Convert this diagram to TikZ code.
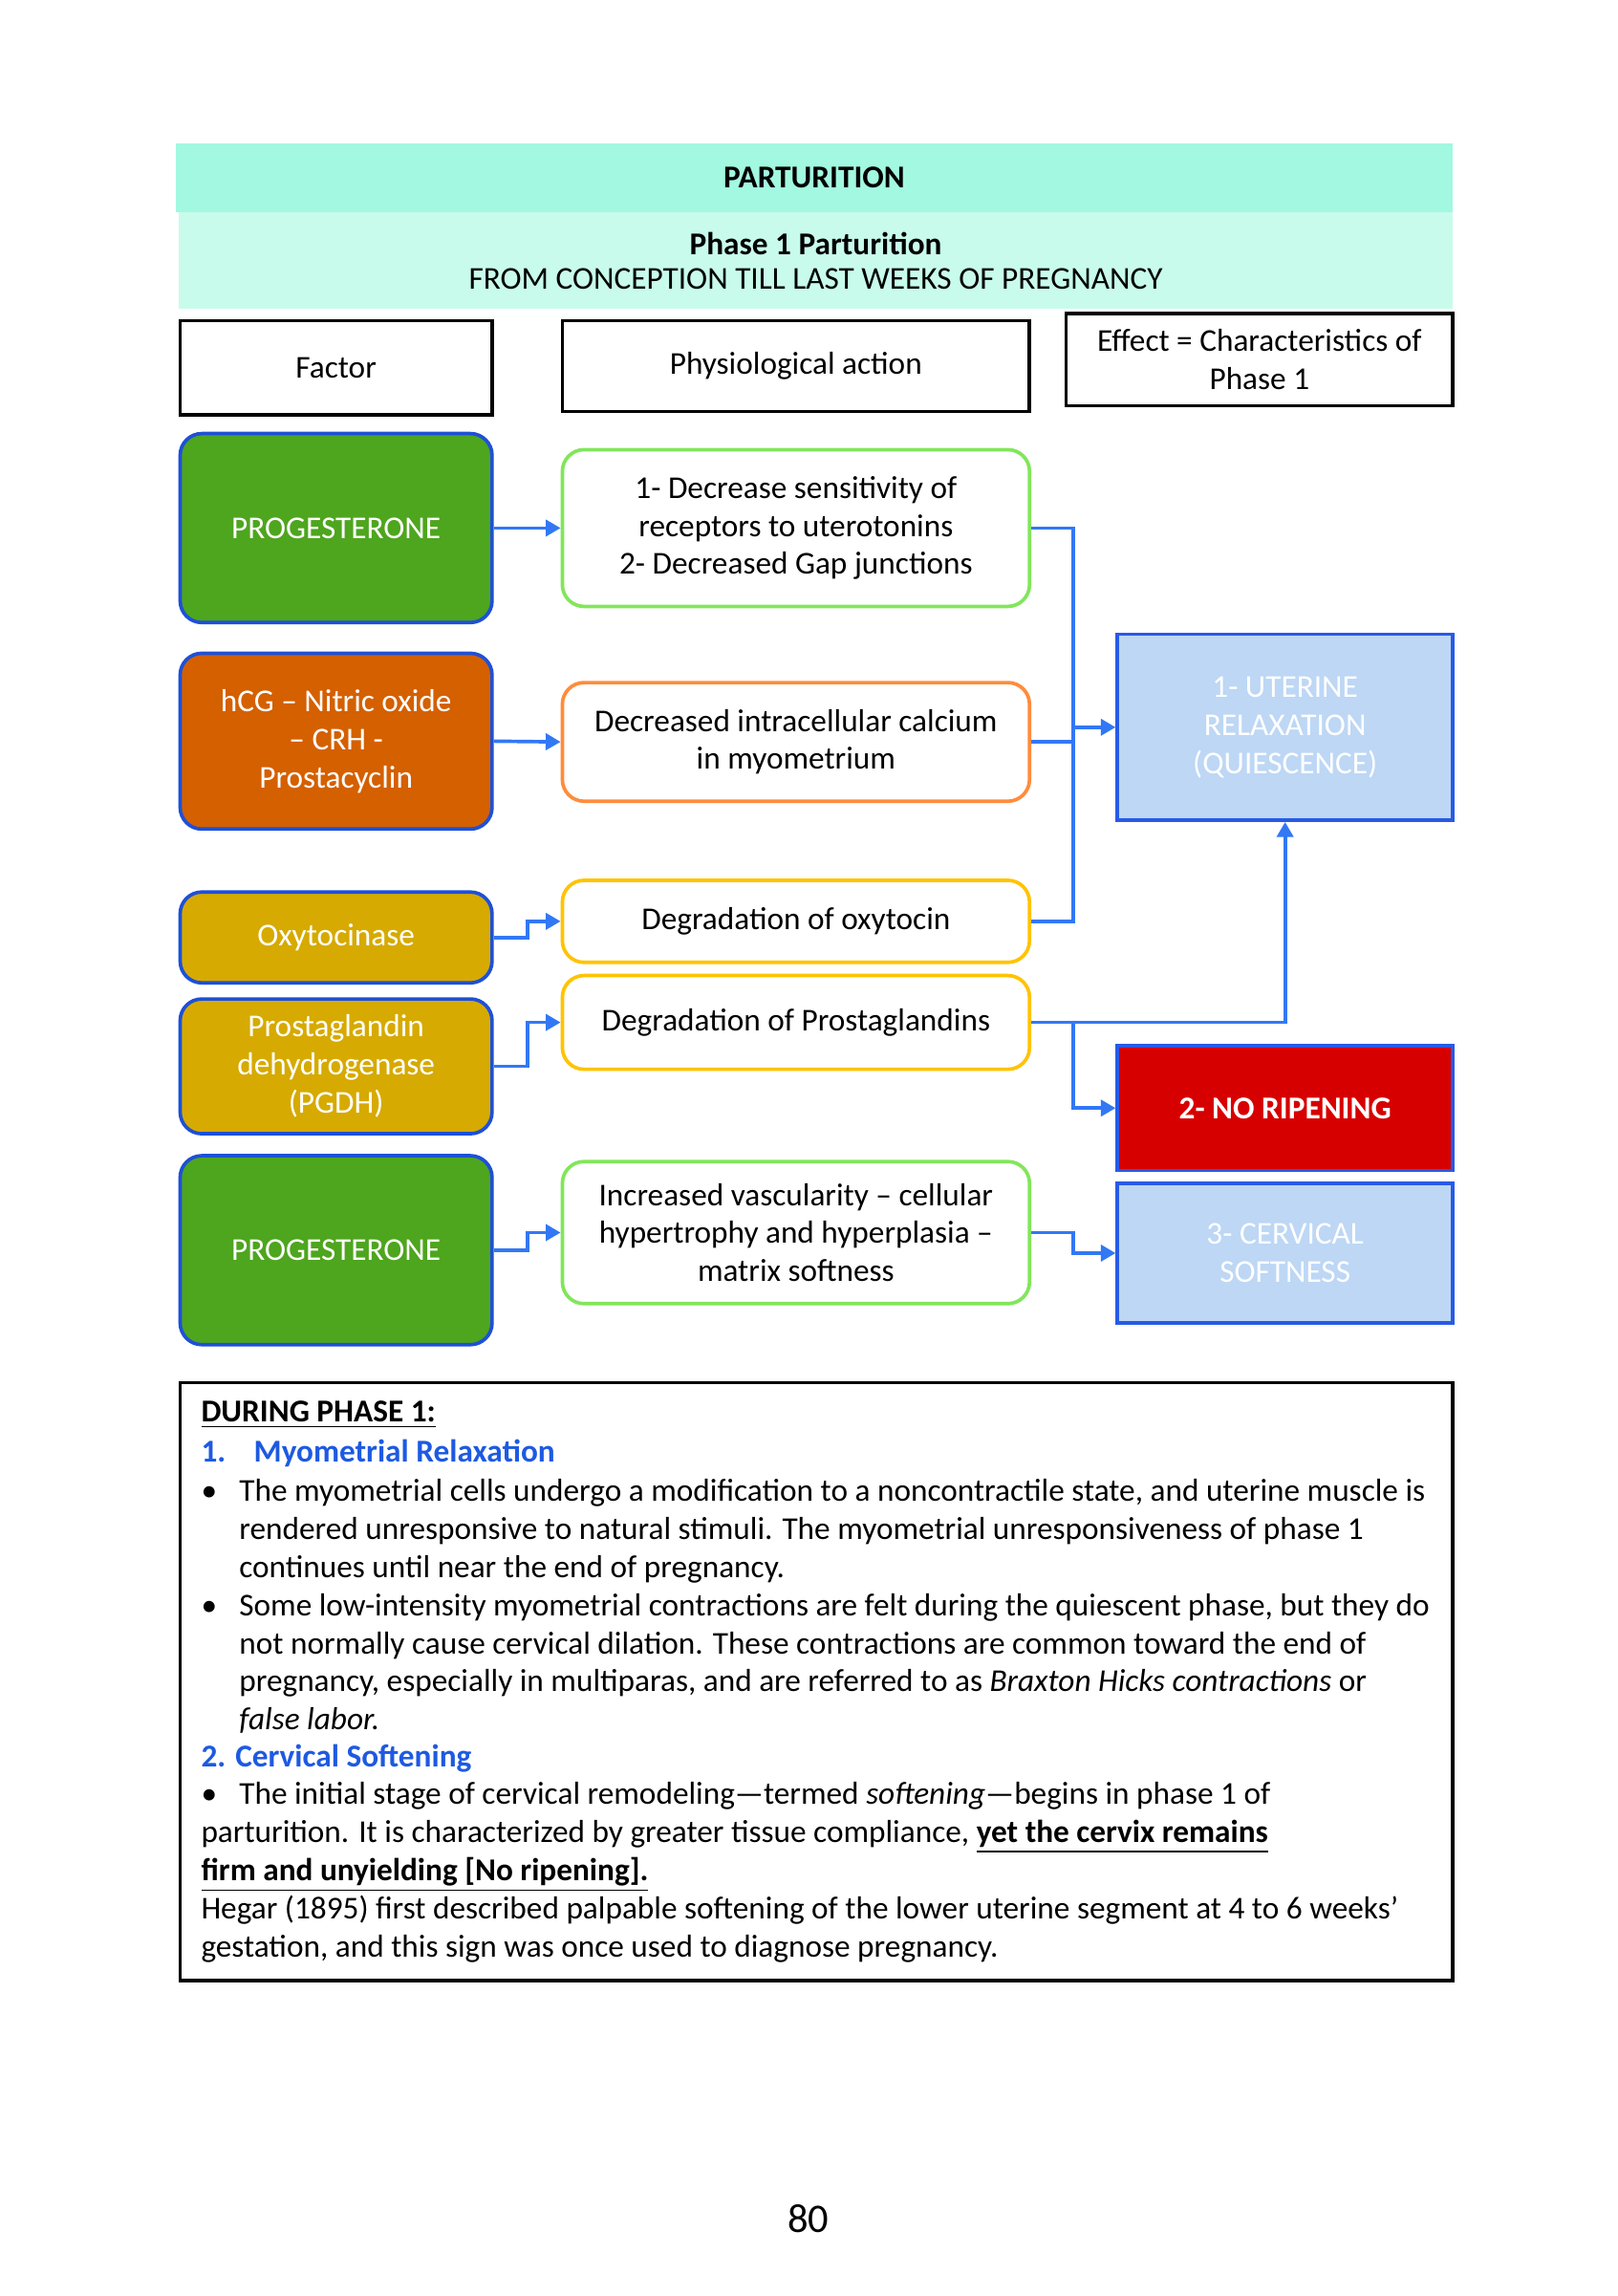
\documentclass[tikz,border=0pt]{standalone}
\usepackage{fontspec}
\setmainfont{Carlito}
\usetikzlibrary{arrows.meta}
\definecolor{hdrA}{RGB}{162,248,224}
\definecolor{hdrB}{RGB}{200,251,235}
\definecolor{fgreen}{RGB}{78,165,30}
\definecolor{forange}{RGB}{212,96,0}
\definecolor{fgold}{RGB}{214,170,0}
\definecolor{fborder}{RGB}{30,80,215}
\definecolor{agreen}{RGB}{130,230,90}
\definecolor{aorange}{RGB}{255,140,60}
\definecolor{ayellow}{RGB}{255,195,0}
\definecolor{eblue}{RGB}{189,215,245}
\definecolor{eborder}{RGB}{40,90,230}
\definecolor{ered}{RGB}{215,0,0}
\definecolor{conncol}{RGB}{50,120,245}
\definecolor{headblue}{RGB}{30,90,225}
\begin{document}
\begin{tikzpicture}[x=0.541pt,y=-0.541pt,
  every node/.style={font=\fontsize{11.75}{14.07}\selectfont},
  sz/.style 2 args={minimum width=#1*0.541pt,minimum height=#2*0.541pt},
  band/.style={inner sep=0pt,outer sep=0pt,align=center},
  hbox/.style={draw=black,line width=1.3pt,inner sep=0pt,align=center},
  factorbox/.style={draw=fborder,line width=1.3pt,rounded corners=8pt,inner sep=0pt,align=center,text=white},
  actbox/.style={draw=#1,line width=1.3pt,rounded corners=8pt,inner sep=0pt,align=center,fill=white},
  effbox/.style={draw=eborder,line width=1.3pt,inner sep=0pt,align=center,text=white},
  conn/.style={draw=conncol,line width=1.3pt,-{Triangle[length=5.5pt,width=6pt]}},
  wire/.style={draw=conncol,line width=1.3pt},
  tl/.style={anchor=base west,inner sep=0pt}
]
\useasboundingbox (0,0) rectangle (1104.8,1567.5);
\fill[white] (0,0) rectangle (1104.8,1567.5);

% header bands
\node[band,fill=hdrA,sz={872}{47}] (h1) at (556,121.5) {\textbf{PARTURITION}};
\node[band,fill=hdrB,sz={870}{66}] (h2) at (557,178) {\textbf{Phase 1 Parturition}\\[-1.6pt]FROM CONCEPTION TILL LAST WEEKS OF PREGNANCY};

% column headers
\node[hbox,sz={213}{64}] (cf) at (229.5,251) {Factor};
\node[hbox,sz={319}{62}] (cp) at (543.5,250) {Physiological action};
\node[hbox,sz={264}{63}] (ce) at (860,245.5) {Effect = Characteristics of\\Phase 1};

% factors
\node[factorbox,fill=fgreen,sz={213}{129}] (prog1) at (229.5,360.5) {PROGESTERONE};
\node[factorbox,fill=forange,sz={213}{120}] (hcg) at (229.5,506) {hCG -- Nitric oxide\\-- CRH -\\Prostacyclin};
\node[factorbox,fill=fgold,sz={213}{62}] (oxy) at (229.5,640) {Oxytocinase};
\node[factorbox,fill=fgold,sz={213}{92}] (pgdh) at (229.5,728) {Prostaglandin\\dehydrogenase\\(PGDH)};
\node[factorbox,fill=fgreen,sz={213}{129}] (prog2) at (229.5,853.5) {PROGESTERONE};

% actions
\node[actbox=agreen,sz={319}{107}] (act1) at (543.5,360.5) {1- Decrease sensitivity of\\receptors to uterotonins\\2- Decreased Gap junctions};
\node[actbox=aorange,sz={319}{81}] (act2) at (543.5,506.5) {Decreased intracellular calcium\\in myometrium};
\node[actbox=ayellow,sz={319}{56}] (act3) at (543.5,629) {Degradation of oxytocin};
\node[actbox=ayellow,sz={319}{64}] (act4) at (543.5,698) {Degradation of Prostaglandins};
\node[actbox=agreen,sz={319}{97}] (act5) at (543.5,841.5) {Increased vascularity -- cellular\\hypertrophy and hyperplasia --\\matrix softness};

% effects
\node[effbox,fill=eblue,sz={229}{127}] (uter) at (877.5,496.5) {1- UTERINE\\RELAXATION\\(QUIESCENCE)};
\node[effbox,fill=ered,sz={229}{85}] (norip) at (877.5,756.5) {\textbf{2- NO RIPENING}};
\node[effbox,fill=eblue,sz={229}{95}] (cerv) at (877.5,855.5) {3- CERVICAL\\SOFTNESS};

% connectors
\coordinate (busx) at (733,0);
\coordinate (lbx) at (360,0);
\draw[conn] (prog1.east) -- (act1.west);
\draw[conn] (hcg.east) -- (act2.west);
\draw[conn] (oxy.east) -- (oxy.east -| lbx) |- (act3.west);
\draw[conn] (pgdh.east) -- (pgdh.east -| lbx) |- (act4.west);
\draw[conn] (prog2.east) -- (prog2.east -| lbx) |- (act5.west);
\draw[wire] (act1.east) -- (act1.east -| busx) -- (act3.east -| busx) -- (act3.east);
\draw[wire] (act2.east) -- (act2.east -| busx);
\draw[conn] (uter.west -| busx) -- (uter.west);
\draw[conn] (act4.east) -| (uter.south);
\draw[conn] (act4.east -| busx) |- (norip.west);
\draw[conn] (act5.east) -- (act5.east -| busx) |- (cerv.west);

% text box
\node[draw=black,line width=1.3pt,inner sep=0pt,sz={869}{408}] (tbox) at (557.5,1148) {};
\node[tl] (t1) at (137,971) {\textbf{\underline{DURING PHASE 1:}}};
\node[tl,text=headblue] (t2a) at (137,998) {\textbf{1.}};
\node[tl,text=headblue] (t2b) at (173,998) {\textbf{Myometrial Relaxation}};
\node[tl] (b1) at (137,1025) {\textbullet};
\node[tl] (t3) at (163,1025) {The myometrial cells undergo a modification to a noncontractile state, and uterine muscle is};
\node[tl] (t4) at (163,1051) {rendered unresponsive to natural stimuli. The myometrial unresponsiveness of phase 1};
\node[tl] (t5) at (163,1077) {continues until near the end of pregnancy.};
\node[tl] (b2) at (137,1103) {\textbullet};
\node[tl] (t6) at (163,1103) {Some low-intensity myometrial contractions are felt during the quiescent phase, but they do};
\node[tl] (t7) at (163,1129) {not normally cause cervical dilation. These contractions are common toward the end of};
\node[tl] (t8) at (163,1155) {pregnancy, especially in multiparas, and are referred to as \textit{Braxton Hicks contractions} or};
\node[tl] (t9) at (163,1181) {\textit{false labor.}};
\node[tl,text=headblue] (t10) at (137,1206) {\textbf{2. Cervical Softening}};
\node[tl] (b3) at (137,1232) {\textbullet};
\node[tl] (t11) at (163,1232) {The initial stage of cervical remodeling---termed \textit{softening}---begins in phase 1 of};
\node[tl] (t12) at (137,1258) {parturition. It is characterized by greater tissue compliance, \textbf{\underline{yet the cervix remains}}};
\node[tl] (t13) at (137,1284) {\textbf{\underline{firm and unyielding [No ripening].}}};
\node[tl] (t14) at (137,1310) {Hegar (1895) first described palpable softening of the lower uterine segment at 4 to 6 weeks’};
\node[tl] (t15) at (137,1336) {gestation, and this sign was once used to diagnose pregnancy.};

% page number
\node[font=\fontsize{15}{18}\selectfont] (pg) at (552,1515) {80};
\end{tikzpicture}
\end{document}
